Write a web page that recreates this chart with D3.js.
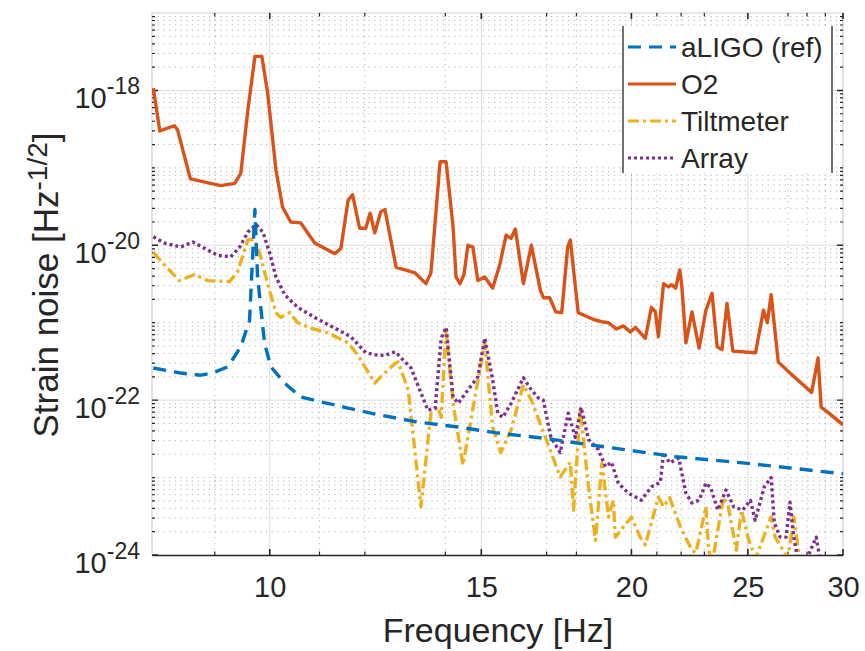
<!DOCTYPE html>
<html>
<head>
<meta charset="utf-8">
<script src="https://cdn.jsdelivr.net/npm/d3@7"></script>
<style>
body { margin: 0; background: #fff; }
svg { display: block; font-family: "Liberation Sans", Arial, Helvetica, sans-serif; }
</style>
</head>
<body>
<svg id="chart" width="865" height="651"></svg>
<script>
// values
const aligoFreq = [8.0, 8.43, 8.76, 8.96, 9.23, 9.46, 9.62, 9.72, 9.77, 9.90, 10.02, 10.29, 10.61, 11.03, 11.62, 12.30, 13.29, 14.35, 15.4, 16.96, 19.14, 21.77, 24.75, 30.0];
const aligo = [2.6e-22, 2.24e-22, 2.1e-22, 2.24e-22, 2.7e-22, 4.9e-22, 1.07e-21, 2.9e-20, 3.9e-21, 5.5e-22, 2.7e-22, 1.66e-22, 1.1e-22, 9.5e-23, 7.9e-23, 6.5e-23, 5.2e-23, 4.5e-23, 3.8e-23, 3.2e-23, 2.45e-23, 1.86e-23, 1.55e-23, 1.12e-23];

const o2Freq = [8.0, 8.10, 8.33, 8.38, 8.59, 9.10, 9.35, 9.46, 9.59, 9.72, 9.85, 9.96, 10.12, 10.25, 10.41, 10.61, 10.90, 11.33, 11.46, 11.62, 11.72, 11.88, 12.02, 12.12, 12.23, 12.37, 12.47, 12.74, 12.96, 13.21, 13.49, 13.62, 13.86, 14.02, 14.21, 14.29, 14.40, 14.51, 14.62, 14.76, 14.90, 15.10, 15.33, 15.54, 15.73, 15.88, 16.01, 16.26, 16.51, 16.80, 16.9, 17.1, 17.3, 17.5, 17.7, 17.79, 18.06, 18.6, 18.95, 19.14, 19.43, 19.69, 19.96, 20.15, 20.54, 20.78, 20.94, 21.06, 21.27, 21.47, 21.60, 21.77, 21.94, 22.03, 22.20, 22.46, 22.77, 23.07, 23.34, 23.57, 23.79, 24.02, 24.29, 25.37, 25.76, 25.95, 26.14, 26.50, 27.14, 28.25, 28.6, 28.77, 29.2, 30.0];
const o2 = [1.07e-18, 3.0e-19, 3.5e-19, 3.1e-19, 7.2e-20, 5.9e-20, 6.3e-20, 8.5e-20, 5.6e-19, 2.75e-18, 2.75e-18, 9.3e-19, 9.3e-20, 3.1e-20, 2.0e-20, 1.95e-20, 1.07e-20, 7.8e-21, 9.1e-21, 3.8e-20, 4.5e-20, 1.66e-20, 1.66e-20, 2.6e-20, 1.45e-20, 2.7e-20, 2.9e-20, 5.2e-21, 4.8e-21, 4.4e-21, 3.2e-21, 4.4e-21, 1.2e-19, 1.2e-19, 1.74e-20, 3.9e-21, 3.2e-21, 4.2e-21, 1.0e-20, 9.5e-21, 3.5e-21, 3.9e-21, 2.8e-21, 5.6e-21, 1.35e-20, 1.23e-20, 1.62e-20, 3.2e-21, 1.0e-20, 2.6e-21, 2.1e-21, 2.1e-21, 1.38e-21, 1.35e-21, 9.5e-21, 1.17e-20, 1.35e-21, 1.1e-21, 1.02e-21, 1.0e-21, 8.3e-22, 9.1e-22, 7.6e-22, 8.7e-22, 6.3e-22, 1.58e-21, 1.38e-21, 6.6e-22, 3.2e-21, 2.9e-21, 3.1e-21, 2.8e-21, 4.8e-21, 2.9e-21, 5.5e-22, 1.38e-21, 4.7e-22, 1.45e-21, 2.4e-21, 4.9e-22, 4.5e-22, 1.78e-21, 4.3e-22, 4.1e-22, 1.45e-21, 1.0e-21, 2.3e-21, 3.1e-22, 2.2e-22, 1.26e-22, 3.5e-22, 8.1e-23, 6.8e-23, 4.8e-23];

const tiltFreq = [8.0, 8.17, 8.41, 8.66, 8.88, 9.26, 9.40, 9.59, 9.70, 9.81, 9.96, 10.12, 10.21, 10.39, 10.55, 10.82, 11.18, 11.62, 11.84, 12.23, 12.37, 12.72, 12.79, 13.04, 13.36, 13.62, 13.81, 13.89, 14.02, 14.21, 14.48, 14.82, 15.10, 15.33, 15.57, 15.88, 16.26, 16.51, 16.96, 17.45, 17.79, 17.9, 18.13, 18.42, 18.67, 18.90, 19.14, 19.32, 19.39, 19.6, 20.0, 20.34, 20.54, 21.06, 21.27, 21.52, 21.97, 22.46, 22.63, 23.07, 23.19, 23.35, 23.86, 24.08, 24.45, 24.7, 25.0, 25.37, 26.14, 26.34, 27.0, 27.3, 27.6, 28.2];
const tilt = [8.1e-21, 5.6e-21, 3.5e-21, 4.2e-21, 3.5e-21, 3.4e-21, 4.5e-21, 1.17e-20, 1.2e-20, 7.9e-21, 3.2e-21, 1.35e-21, 1.17e-21, 1.35e-21, 1.0e-21, 8.5e-22, 7.4e-22, 5.5e-22, 3.8e-22, 1.66e-22, 2.0e-22, 3.0e-22, 3.1e-22, 1.35e-22, 4.2e-24, 6.8e-23, 8.1e-23, 6.0e-23, 8.1e-22, 9.1e-23, 1.45e-23, 1.1e-22, 5.5e-22, 4.5e-23, 2.1e-23, 4.1e-23, 1.58e-22, 1.0e-22, 3.3e-23, 1.02e-23, 1.58e-23, 3.8e-24, 7.9e-23, 7.6e-24, 1.55e-24, 1.55e-23, 3.1e-24, 5.1e-24, 1.7e-24, 2.1e-24, 3.1e-24, 1.7e-24, 1.35e-24, 5.6e-24, 4.2e-24, 5.5e-24, 2.3e-24, 1.15e-24, 1.07e-24, 4.2e-24, 1.15e-24, 8e-25, 5.6e-24, 4.2e-24, 1.15e-24, 3.8e-24, 1.7e-24, 9e-25, 3.1e-24, 1.7e-24, 9e-25, 3.1e-24, 9e-25, 5e-25];

const arrayFreq = [8.0, 8.17, 8.43, 8.63, 8.83, 9.05, 9.28, 9.44, 9.59, 9.74, 9.87, 10.0, 10.12, 10.29, 10.55, 10.90, 11.33, 11.68, 12.02, 12.30, 12.47, 12.72, 13.11, 13.54, 13.73, 13.89, 14.02, 14.21, 14.35, 14.62, 14.90, 15.10, 15.33, 15.48, 15.63, 15.88, 16.26, 16.51, 16.73, 16.89, 17.14, 17.45, 17.72, 17.96, 18.16, 18.42, 18.77, 19.03, 19.25, 19.5, 19.88, 20.38, 20.78, 21.14, 21.27, 21.52, 21.9, 22.2, 22.46, 22.77, 23.07, 23.28, 23.6, 23.97, 24.33, 24.75, 25.12, 25.35, 25.8, 26.14, 26.3, 26.6, 26.9, 27.1, 27.3, 27.5, 28.0, 28.5, 28.7, 29.0];
const arrayNoise = [1.29e-20, 1.07e-20, 9.5e-21, 1.1e-20, 9.1e-21, 7.4e-21, 7.1e-21, 9.5e-21, 1.48e-20, 1.86e-20, 1.48e-20, 7.9e-21, 3.9e-21, 2.3e-21, 1.58e-21, 1.17e-21, 8.5e-22, 6.6e-22, 4.1e-22, 3.8e-22, 3.8e-22, 4.2e-22, 2.6e-22, 7.4e-23, 7.9e-23, 6.3e-22, 8.7e-22, 1.1e-22, 9.1e-23, 1.35e-22, 2.0e-22, 6.3e-22, 1.82e-22, 6.8e-23, 6.0e-23, 9.1e-23, 1.95e-22, 1.35e-22, 1.07e-22, 1.0e-22, 3.3e-23, 2.1e-23, 6.8e-23, 3.3e-23, 8.1e-23, 3.1e-23, 2.3e-23, 1.38e-23, 1.58e-23, 8.5e-24, 6.3e-24, 5.1e-24, 7.6e-24, 8.7e-24, 2.1e-23, 1.55e-23, 1.78e-23, 6.3e-24, 4.7e-24, 5.1e-24, 8.5e-24, 7.4e-24, 3.8e-24, 6.9e-24, 4.2e-24, 3.8e-24, 5.1e-24, 2.8e-24, 7.6e-24, 1.0e-23, 2.6e-24, 1.7e-24, 1.7e-24, 4.8e-24, 1.7e-24, 9e-25, 9e-25, 1.7e-24, 9e-25, 8e-25];

const seriesNames = ["aLIGO (ref)", "O2", "Tiltmeter", "Array"];
const xMajor = [10, 15, 20, 25, 30];
const xMinor = [9, 11, 12, 14, 17, 18, 21, 22, 23, 27, 28, 29];
const yMajor = [1e-24, 1e-22, 1e-20, 1e-18];

const ink = "#262626";
const pL = 152, pR = 843, pT = 13, pB = 555;

const x = d3.scaleLog().domain([7.98, 30]).range([pL, pR]);
const y = d3.scaleLog().domain([1e-24, 1e-17]).range([pB, pT]);
const yMinor = y.ticks().filter(v => !yMajor.some(m => Math.abs(m / v - 1) < 1e-6) && v < 9.9e-18);

const svg = d3.select("#chart");

// grid
const grid = svg.append("g");
grid.selectAll(".gxm").data(xMinor).join("line")
    .attr("x1", d => x(d)).attr("x2", d => x(d)).attr("y1", pT).attr("y2", pB)
    .attr("stroke", "#000").attr("stroke-opacity", 0.3).attr("stroke-dasharray", "1.2,4.5");
grid.selectAll(".gym").data(yMinor).join("line")
    .attr("x1", pL).attr("x2", pR).attr("y1", d => y(d)).attr("y2", d => y(d))
    .attr("stroke", "#000").attr("stroke-opacity", 0.3).attr("stroke-dasharray", "1.2,4.5");
grid.selectAll(".gx").data(xMajor.slice(0, -1)).join("line")
    .attr("x1", d => x(d)).attr("x2", d => x(d)).attr("y1", pT).attr("y2", pB)
    .attr("stroke", "#000").attr("stroke-opacity", 0.14);
grid.selectAll(".gy").data(yMajor.slice(1)).join("line")
    .attr("x1", pL).attr("x2", pR).attr("y1", d => y(d)).attr("y2", d => y(d))
    .attr("stroke", "#000").attr("stroke-opacity", 0.14);

// box edges (left/top/right faint, bottom dark)
svg.append("path")
    .attr("d", `M${pL},${pB}V${pT}H${pR}V${pB}`)
    .attr("fill", "none").attr("stroke", "#cfcfcf").attr("stroke-width", 1.2);

// ticks
const ticks = svg.append("g").attr("stroke", ink);
function vTicks(vals, len, w) {
    ticks.selectAll(null).data(vals).join("path")
        .attr("d", d => `M${x(d)},${pB}v${-len}M${x(d)},${pT}v${len}`)
        .attr("stroke-width", w);
}
function hTicks(vals, len, w) {
    ticks.selectAll(null).data(vals).join("path")
        .attr("d", d => `M${pL},${y(d)}h${len}M${pR},${y(d)}h${-len}`)
        .attr("stroke-width", w);
}
vTicks(xMajor, 6, 1.6);
vTicks(xMinor, 3.5, 1.2);
hTicks(yMajor, 6, 1.4);
hTicks(yMinor, 3, 1.2);

// x axis
const xAxis = svg.append("g").attr("transform", `translate(0,${pB})`)
    .call(d3.axisBottom(x).tickValues(xMajor).tickFormat(d3.format("d")).tickSize(0).tickSizeOuter(0).tickPadding(21));
xAxis.select(".domain").attr("stroke", ink).attr("stroke-width", 1.6);
xAxis.selectAll(".tick text").attr("font-size", 29).attr("fill", ink)
    .attr("font-family", "Liberation Sans, Arial, sans-serif");

// y tick labels with superscripts
const yLab = svg.append("g").attr("fill", ink);
yMajor.forEach(v => {
    const t = yLab.append("text").attr("x", 140).attr("y", y(v) + 18).attr("text-anchor", "end");
    t.append("tspan").attr("font-size", 29).text("10");
    t.append("tspan").attr("font-size", 23).attr("dy", -14).text(Math.round(Math.log10(v)));
});

// axis titles
svg.append("text").attr("x", 498).attr("y", 642).attr("text-anchor", "middle")
    .attr("font-size", 34).attr("fill", ink).text("Frequency [Hz]");
const yt = svg.append("text").attr("transform", "translate(58,285) rotate(-90)")
    .attr("text-anchor", "middle").attr("font-size", 35).attr("fill", ink);
yt.append("tspan").text("Strain noise [Hz");
yt.append("tspan").attr("font-size", 28).attr("dy", -11).text("-1/2");
yt.append("tspan").attr("dy", 11).text("]");

// data lines
svg.append("clipPath").attr("id", "plotClip").append("rect")
    .attr("x", pL).attr("y", pT).attr("width", pR - pL).attr("height", pB - pT);
const plot = svg.append("g").attr("clip-path", "url(#plotClip)");
const line = d3.line().x(d => x(d[0])).y(d => y(d[1]));

const styles = [
    { color: "#0072BD", dash: "13,8" },
    { color: "#D95319", dash: null },
    { color: "#EDB120", dash: "11,4,3,4" },
    { color: "#7E2F8E", dash: "3,3" }
];
const series = [
    d3.zip(aligoFreq, aligo),
    d3.zip(o2Freq, o2),
    d3.zip(tiltFreq, tilt),
    d3.zip(arrayFreq, arrayNoise)
];
// draw order: O2, tiltmeter, array, aLIGO on top
[1, 2, 3, 0].forEach(i => {
    plot.append("path").attr("d", line(series[i]))
        .attr("fill", "none").attr("stroke", styles[i].color).attr("stroke-width", 3.4)
        .attr("stroke-linejoin", "round")
        .attr("stroke-dasharray", styles[i].dash);
});

// legend
const lg = svg.append("g");
lg.append("rect").attr("x", 623).attr("y", 26).attr("width", 209).attr("height", 147).attr("fill", "#fff");
lg.append("path").attr("d", "M623,26V173M832,26V173").attr("stroke", ink).attr("stroke-width", 1.3);
seriesNames.forEach((name, i) => {
    const cy = 47 + i * 37;
    lg.append("line").attr("x1", 628).attr("x2", 676).attr("y1", cy).attr("y2", cy)
        .attr("stroke", styles[i].color).attr("stroke-width", 3)
        .attr("stroke-dasharray", styles[i].dash);
    lg.append("text").attr("x", 681).attr("y", cy + 10).attr("font-size", 28).attr("fill", ink).text(name);
});
</script>
</body>
</html>
